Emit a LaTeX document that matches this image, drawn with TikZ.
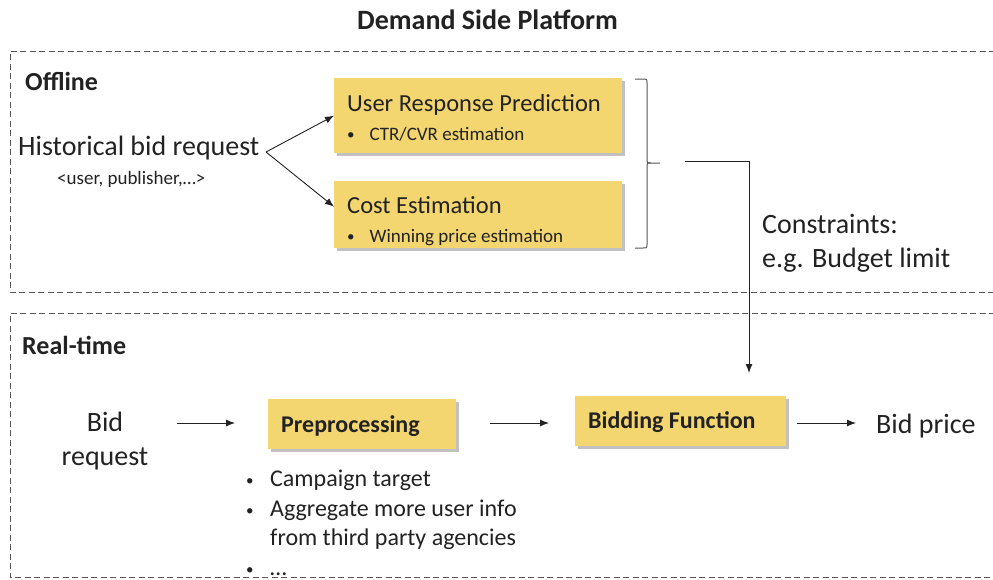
\documentclass[tikz,border=0pt]{standalone}
\usepackage{fontspec}
\setmainfont{Carlito}
\usetikzlibrary{arrows.meta,shadows}
\definecolor{boxyellow}{HTML}{F3D670}
\definecolor{txt}{HTML}{222222}
\definecolor{dashgray}{HTML}{555555}
\newcommand{\smallbul}{{\fontsize{15}{15}\selectfont\raisebox{1pt}{•}}}
\tikzset{
  lbl/.style={inner sep=0pt, anchor=base west, text=txt},
  ybox/.style={fill=boxyellow, draw=none, drop shadow={shadow xshift=2.5pt, shadow yshift=-3pt, opacity=0.35, fill=black!70}},
  frame/.style={draw=dashgray, line width=0.9pt, dash pattern=on 6pt off 3.5pt},
  conn/.style={draw=txt, line width=0.9pt, -{Latex[length=9pt,width=7pt]}},
  bracel/.style={draw=dashgray, line width=1pt},
}
\begin{document}
\begin{tikzpicture}[x=1pt,y=-1pt]
\useasboundingbox (0,0) rectangle (993,579);
% frames
\path[frame] (995,51) -- (10,51) -- (10,292) -- (995,292);
\path[frame] (995,313) -- (10,313) -- (10,577) -- (995,577);
% title
\node[lbl, font=\fontsize{28}{30}\selectfont\bfseries] (title) at (357,29) {Demand Side Platform};
\node[lbl, font=\fontsize{26}{28}\selectfont\bfseries] (offline) at (25,90) {Offline};
\node[lbl, font=\fontsize{26}{28}\selectfont\bfseries] (realtime) at (22,354) {Real-time};
% offline part
\node[lbl, font=\fontsize{28}{30}\selectfont] (hist) at (18,155) {Historical bid request};
\node[lbl, font=\fontsize{19}{21}\selectfont] (histsub) at (57,184) {<user, publisher,…>};
\node[ybox, minimum width=288pt, minimum height=75pt, anchor=north west] (urp) at (334,78) {};
\node[lbl, font=\fontsize{24.5}{26}\selectfont] (urpt) at (347,111) {User Response Prediction};
\node[lbl, font=\fontsize{19}{21}\selectfont] (urpb) at (347,140) {\smallbul\hspace{15pt}CTR/CVR estimation};
\node[ybox, minimum width=288pt, minimum height=67pt, anchor=north west] (cost) at (334,181) {};
\node[lbl, font=\fontsize{24.5}{26}\selectfont] (costt) at (347,213) {Cost Estimation};
\node[lbl, font=\fontsize{19}{21}\selectfont] (costb) at (347,242) {\smallbul\hspace{15pt}Winning price estimation};
\coordinate (hj) at (266,152);
\draw[conn] (hj) -- (urp.west);
\draw[conn] (hj) -- ([yshift=8pt]cost.west);
% brace
\coordinate (bt) at (635,79);
\coordinate (bb) at (635,248);
\coordinate (btip) at (660,163);
\draw[bracel] (bt) -- (643,79) .. controls (647,79) .. (647,83) -- (647,159) .. controls (647,163) .. (651,163) -- (btip);
\draw[bracel] (651,163) .. controls (647,163) .. (647,167) -- (647,244) .. controls (647,248) .. (643,248) -- (bb);
% constraint connector
\coordinate (cstart) at (685,161);
\coordinate (cend) at (749,373);
\draw[conn] (cstart) -| (cend);
\node[lbl, font=\fontsize{28}{30}\selectfont] (constr1) at (762,233) {Constraints:};
\node[lbl, font=\fontsize{28}{30}\selectfont] (constr2) at (762,267) {e.g. Budget limit};
% real-time part
\node[inner sep=0pt, text=txt, font=\fontsize{28}{34}\selectfont, align=center, anchor=base] (bidreq) at (105,465) {Bid\\request};
\node[ybox, minimum width=188pt, minimum height=50pt, anchor=north west] (pre) at (268,399) {};
\node[lbl, font=\fontsize{24}{26}\selectfont\bfseries] (pret) at (281,432) {Preprocessing};
\node[lbl, font=\fontsize{24}{29.5}\selectfont, align=left, anchor=north west] (prelist) at (246,470) {%
\makebox[24pt][l]{\smallbul}Campaign target\\
\makebox[24pt][l]{\smallbul}Aggregate more user info\\
\makebox[24pt][l]{}from third party agencies\\
\makebox[24pt][l]{\smallbul}…};
\node[ybox, minimum width=211pt, minimum height=50pt, anchor=north west] (bidf) at (575,396) {};
\node[lbl, font=\fontsize{24}{26}\selectfont\bfseries] (bidft) at (588,428) {Bidding Function};
\node[lbl, font=\fontsize{28}{30}\selectfont] (bidprice) at (876,433) {Bid price};
\coordinate (a1s) at (177,423);
\coordinate (a1e) at (235,423);
\draw[conn] (a1s) -- (a1e);
\coordinate (a2s) at (490,423);
\coordinate (a2e) at (549,423);
\draw[conn] (a2s) -- (a2e);
\coordinate (a3s) at (797,423);
\coordinate (a3e) at (856,423);
\draw[conn] (a3s) -- (a3e);
\end{tikzpicture}
\end{document}
